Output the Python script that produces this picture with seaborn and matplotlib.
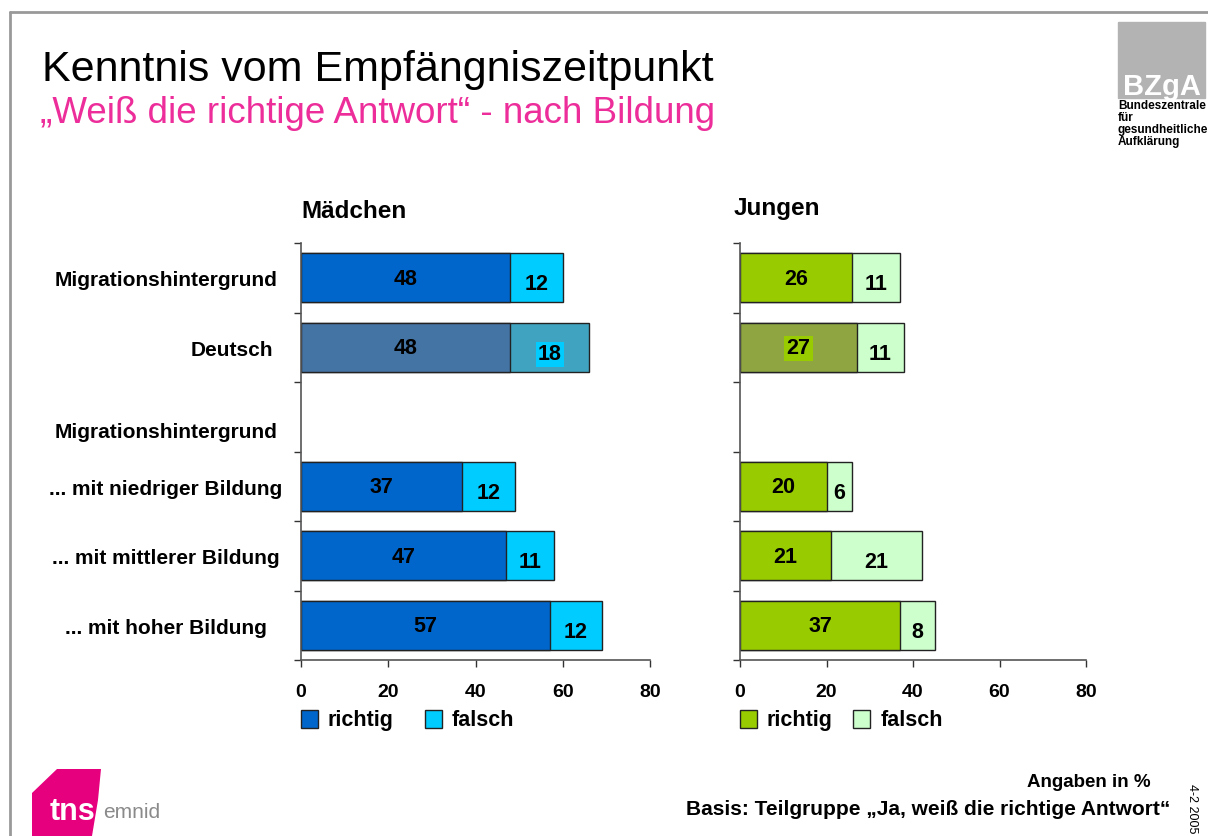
import numpy as np
import pandas as pd
import matplotlib
matplotlib.use("Agg")
import matplotlib.pyplot as plt
import matplotlib.transforms as mtrans
from matplotlib.patches import Patch, Rectangle, Polygon
from matplotlib.lines import Line2D
import seaborn as sns

# ---------------- data ----------------
row_keys = ["mig", "deu", "hdr", "low", "mid", "high"]
row_labels = ["Migrationshintergrund", "Deutsch", "Migrationshintergrund",
              "... mit niedriger Bildung", "... mit mittlerer Bildung", "... mit hoher Bildung"]
girls_richtig = [48, 48, np.nan, 37, 47, 57]
girls_falsch = [12, 18, np.nan, 12, 11, 12]
boys_richtig = [26, 27, np.nan, 20, 21, 37]
boys_falsch = [11, 11, np.nan, 6, 21, 8]
x_ticks = [0, 20, 40, 60, 80]
legend_labels = ["richtig", "falsch"]

sns.set_theme(style="white")
plt.rcParams["font.family"] = ["Liberation Sans", "DejaVu Sans"]
plt.rcParams["text.color"] = "black"

W, H = 1208, 836
fig = plt.figure(figsize=(W / 100, H / 100), dpi=100)


def fx(x):
    return x / W


def fy(y):
    return 1 - y / H


# frame lines
fig.add_artist(Line2D([fx(10), 1], [fy(12), fy(12)], color="#999999", lw=2))
fig.add_artist(Line2D([fx(10), fx(10)], [fy(12), 0], color="#999999", lw=2))

# titles
fig.text(fx(42), fy(81), "Kenntnis vom Empfängniszeitpunkt", fontsize=31,
         color="black", va="baseline", ha="left")
fig.text(fx(40), fy(123), "„Weiß die richtige Antwort“ - nach Bildung", fontsize=26.5,
         color="#EC2D9A", va="baseline", ha="left")

# BZgA logo
fig.add_artist(Rectangle((fx(1118), fy(98)), 87 / W, 76 / H, color="#B3B3B3",
                         transform=fig.transFigure))
fig.text(fx(1162), fy(95), "BZgA", fontsize=21, fontweight="bold", color="white",
         ha="center", va="baseline")
fig.text(fx(1118), fy(100), "Bundeszentrale\nfür\ngesundheitliche\nAufklärung",
         fontsize=8.5, fontweight="bold", ha="left", va="top", linespacing=1.0)

# tns emnid logo
poly = [(32, 836), (32, 793), (57, 769), (101, 769), (98, 800), (92, 836)]
fig.add_artist(Polygon([(fx(a), fy(b)) for a, b in poly], closed=True,
                       facecolor="#E6007E", edgecolor="none", transform=fig.transFigure))
fig.text(fx(50), fy(820), "tns", fontsize=22, fontweight="bold", color="white",
         ha="left", va="baseline")
fig.text(fx(103), fy(818), "emnid", fontsize=15, color="#8a8a8a", ha="left", va="baseline")

# footer
fig.text(fx(1151), fy(787), "Angaben in %", fontsize=13.5, fontweight="bold",
         ha="right", va="baseline")
fig.text(fx(1170), fy(815), "Basis: Teilgruppe „Ja, weiß die richtige Antwort“",
         fontsize=15, fontweight="bold", ha="right", va="baseline")
fig.text(fx(1192), fy(784), "4-2 2005", fontsize=9, rotation=-90, ha="center", va="top")

ax_h = (660 - 243) / H
panels = [
    dict(x0=301, w=349, title="Mädchen", rich=girls_richtig, fal=girls_falsch,
         c_r="#0066CC", c_f="#00CCFF", d_r="#4474A4", d_f="#40A4C0",
         lab_bg=("deu", "f", "#00CCFF"), labels=True, title_x=301, title_y=218,
         colsp=1.45),
    dict(x0=740, w=346, title="Jungen", rich=boys_richtig, fal=boys_falsch,
         c_r="#99CC00", c_f="#CCFFCC", d_r="#8EA542", d_f="#CCFFCC",
         lab_bg=("deu", "r", "#99CC00"), labels=False, title_x=734, title_y=215,
         colsp=0.95),
]

# label layout (pixel x centre, vertical offset in category units)
label_cx = {"deu": 232}
label_dy = {"hdr": 0.23}

for p in panels:
    ax = fig.add_axes([fx(p["x0"]), fy(660), p["w"] / W, ax_h])
    df = pd.DataFrame({"key": row_keys, "richtig": p["rich"], "falsch": p["fal"]})
    df["total"] = df["richtig"] + df["falsch"]
    sns.barplot(data=df, y="key", x="total", order=row_keys, orient="h",
                color=p["c_f"], saturation=1, edgecolor="#222222", linewidth=1,
                width=0.7, ax=ax)
    sns.barplot(data=df, y="key", x="richtig", order=row_keys, orient="h",
                color=p["c_r"], saturation=1, edgecolor="#222222", linewidth=1,
                width=0.7, ax=ax)
    # recolour the "Deutsch" row
    n = len([v for v in df["total"] if not np.isnan(v)])
    for i, patch in enumerate(ax.patches):
        yc = patch.get_y() + patch.get_height() / 2
        if abs(yc - 1) < 0.01:
            patch.set_facecolor(p["d_f"] if i < n else p["d_r"])

    # value labels
    for i, k in enumerate(row_keys):
        r, f = p["rich"][i], p["fal"][i]
        if np.isnan(r):
            continue
        bb_r = bb_f = None
        if p["lab_bg"][0] == k:
            bb = dict(facecolor=p["lab_bg"][2], edgecolor="none", pad=1.5)
            if p["lab_bg"][1] == "f":
                bb_f = bb
            else:
                bb_r = bb
        ax.text(r / 2, i + 0.02, f"{r:g}", ha="center", va="center", fontsize=15.5,
                fontweight="bold", bbox=bb_r)
        ax.text(r + f / 2, i + 0.1, f"{f:g}", ha="center", va="center", fontsize=15.5,
                fontweight="bold", bbox=bb_f)

    ax.set_xlim(0, 80)
    ax.set_ylim(5.5, -0.5)
    ax.set_xticks(x_ticks)
    ax.set_xticklabels([str(t) for t in x_ticks], fontsize=14, fontweight="bold")
    ax.set_yticks(np.arange(-0.5, 6, 1))
    ax.set_yticklabels([])
    ax.set_xlabel("")
    ax.set_ylabel("")
    ax.tick_params(axis="both", which="both", direction="out", length=5, width=1,
                   color="#333333", labelcolor="black", left=True, bottom=True, pad=12)
    for s in ["top", "right"]:
        ax.spines[s].set_visible(False)
    for s in ["left", "bottom"]:
        ax.spines[s].set_color("#555555")
        ax.spines[s].set_linewidth(1.2)

    fig.text(fx(p["title_x"]), fy(p["title_y"]), p["title"], fontsize=17.5,
             fontweight="bold", ha="left", va="baseline")

    if p["labels"]:
        tr = mtrans.blended_transform_factory(fig.transFigure, ax.transData)
        for i, (k, lab) in enumerate(zip(row_keys, row_labels)):
            ax.text(fx(label_cx.get(k, 166)), i + label_dy.get(k, 0.04), lab,
                    transform=tr, ha="center", va="center",
                    fontsize=15, fontweight="bold")

    handles = [Patch(facecolor=p["c_r"], edgecolor="#222222"),
               Patch(facecolor=p["c_f"], edgecolor="#222222")]
    ax.legend(handles, legend_labels, loc="upper left", bbox_to_anchor=(0.0, -0.12),
              ncol=2, frameon=False, prop=dict(size=15.5, weight="bold"),
              handlelength=0.8, handleheight=0.9, handletextpad=0.45,
              columnspacing=p["colsp"], borderaxespad=0, borderpad=0)

fig.savefig("out.png", dpi=100)
